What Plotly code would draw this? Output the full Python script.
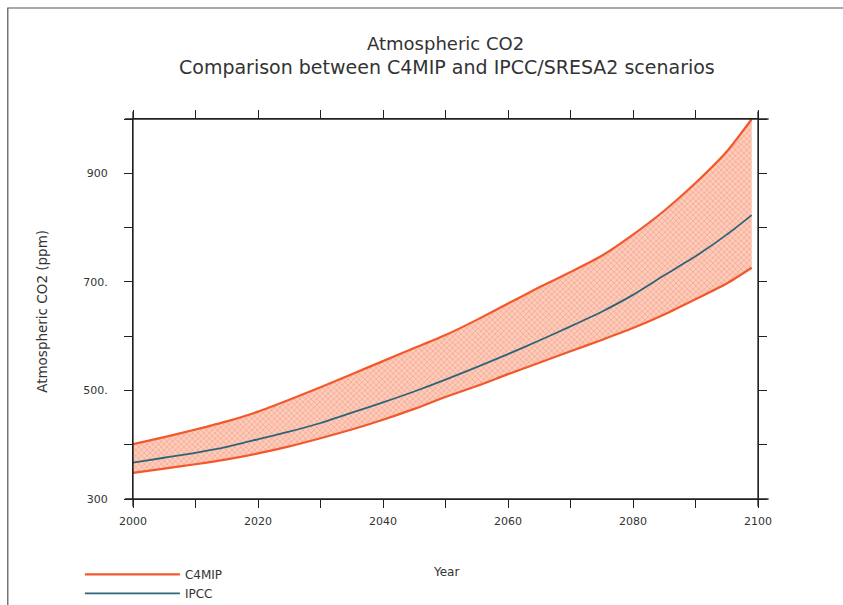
import plotly.graph_objects as go

years = [2000, 2005, 2010, 2015, 2020, 2025, 2030, 2035, 2040, 2045, 2050,
         2055, 2060, 2065, 2070, 2075, 2080, 2085, 2090, 2095, 2099]
c4mip_upper = [401, 414, 428, 443, 461, 483, 506, 530, 554, 578, 602,
               630, 660, 690, 718, 748, 787, 831, 882, 940, 1000]
c4mip_lower = [348, 356, 364, 373, 384, 397, 412, 428, 446, 466, 488,
               508, 530, 551, 572, 593, 615, 640, 668, 697, 726]
ipcc = [367, 376, 385, 396, 410, 424, 440, 459, 478, 498, 520,
        543, 567, 592, 618, 645, 676, 712, 747, 787, 823]

x_tickvals = list(range(2000, 2101, 10))
x_ticktext = ["2000", "", "2020", "", "2040", "", "2060", "", "2080", "", "2100"]
y_tickvals = list(range(300, 1001, 100))
y_ticktext = ["300", "", "500.", "", "700.", "", "900", ""]

ORANGE = "#f2582c"
TEAL = "#2e6478"
TXT = "#333333"
FONT = "DejaVu Sans"

fig = go.Figure()
fig.add_trace(go.Scatter(
    x=years + years[::-1], y=c4mip_upper + c4mip_lower[::-1],
    fill="toself", mode="none", showlegend=False, hoverinfo="skip",
    fillcolor="#fbbfac",
    fillpattern=dict(shape="x", fgcolor="#f37b5a", bgcolor="#fccdbd",
                     size=4, solidity=0.35),
))
fig.add_trace(go.Scatter(x=years, y=c4mip_upper, mode="lines", name="C4MIP",
                         legendgroup="c4", line=dict(color=ORANGE, width=2.2, shape="spline", smoothing=0.6)))
fig.add_trace(go.Scatter(x=years, y=c4mip_lower, mode="lines", name="C4MIP",
                         legendgroup="c4", showlegend=False,
                         line=dict(color=ORANGE, width=2.2, shape="spline", smoothing=0.6)))
fig.add_trace(go.Scatter(x=years, y=ipcc, mode="lines", name="IPCC",
                         line=dict(color=TEAL, width=1.8, shape="spline", smoothing=0.6)))

axis_common = dict(showline=True, linecolor="#222222", linewidth=1.3, mirror="allticks",
                   ticks="outside", ticklen=8, tickwidth=1, tickcolor="#222222",
                   showgrid=False, zeroline=False,
                   tickfont=dict(family=FONT, size=11, color=TXT))

fig.update_layout(
    width=843, height=605,
    margin=dict(l=133, r=85, t=119, b=106, autoexpand=False),
    paper_bgcolor="white", plot_bgcolor="white",
    xaxis=dict(range=[2000, 2100], tickvals=x_tickvals, ticktext=x_ticktext,
               ticklabelstandoff=4, **axis_common),
    yaxis=dict(range=[300, 1000], tickvals=y_tickvals, ticktext=y_ticktext,
               ticklabelstandoff=14, **axis_common),
    legend=dict(x=-0.085, y=-0.16, xanchor="left", yanchor="top", orientation="v",
                itemwidth=95, tracegroupgap=0,
                font=dict(family=FONT, size=12, color=TXT),
                bgcolor="rgba(0,0,0,0)"),
    showlegend=True,
    annotations=[
        dict(text="Atmospheric CO2", xref="paper", yref="paper",
             x=(445 - 133) / 624, y=(499 - 44) / 380,
             showarrow=False, xanchor="center", yanchor="middle",
             font=dict(family=FONT, size=18, color=TXT)),
        dict(text="Comparison between C4MIP and IPCC/SRESA2 scenarios", xref="paper", yref="paper",
             x=(446 - 133) / 624, y=(499 - 67) / 380,
             showarrow=False, xanchor="center", yanchor="middle",
             font=dict(family=FONT, size=19, color=TXT)),
        dict(text="Year", xref="paper", yref="paper", x=(445 - 133) / 624, y=(499 - 572) / 380,
             showarrow=False, xanchor="center", yanchor="middle",
             font=dict(family=FONT, size=12, color=TXT)),
        dict(text="Atmospheric CO2 (ppm)", xref="paper", yref="paper",
             x=(42 - 133) / 624, y=(499 - 311) / 380, textangle=-90,
             showarrow=False, xanchor="center", yanchor="middle",
             font=dict(family=FONT, size=13.5, color=TXT)),
    ],
    shapes=[
        dict(type="rect", xref="paper", yref="paper",
             x0=(8 - 133) / 624, x1=(850 - 133) / 624,
             y0=(499 - 615) / 380, y1=(499 - 8) / 380,
             line=dict(color="#555555", width=1.2), layer="below"),
        dict(type="line", xref="paper", yref="paper", x0=-0.013, x1=1.017, y0=0, y1=0,
             line=dict(color="#222222", width=1.3)),
        dict(type="line", xref="paper", yref="paper", x0=-0.013, x1=1.017, y0=1, y1=1,
             line=dict(color="#222222", width=1.3)),
        dict(type="line", xref="paper", yref="paper", x0=0, x1=0, y0=-0.02, y1=1.02,
             line=dict(color="#222222", width=1.3)),
        dict(type="line", xref="paper", yref="paper", x0=1, x1=1, y0=-0.02, y1=1.02,
             line=dict(color="#222222", width=1.3)),
    ],
)

fig.write_html("out.html", config={"displayModeBar": False},
               post_script="document.body.style.margin='0px';")
